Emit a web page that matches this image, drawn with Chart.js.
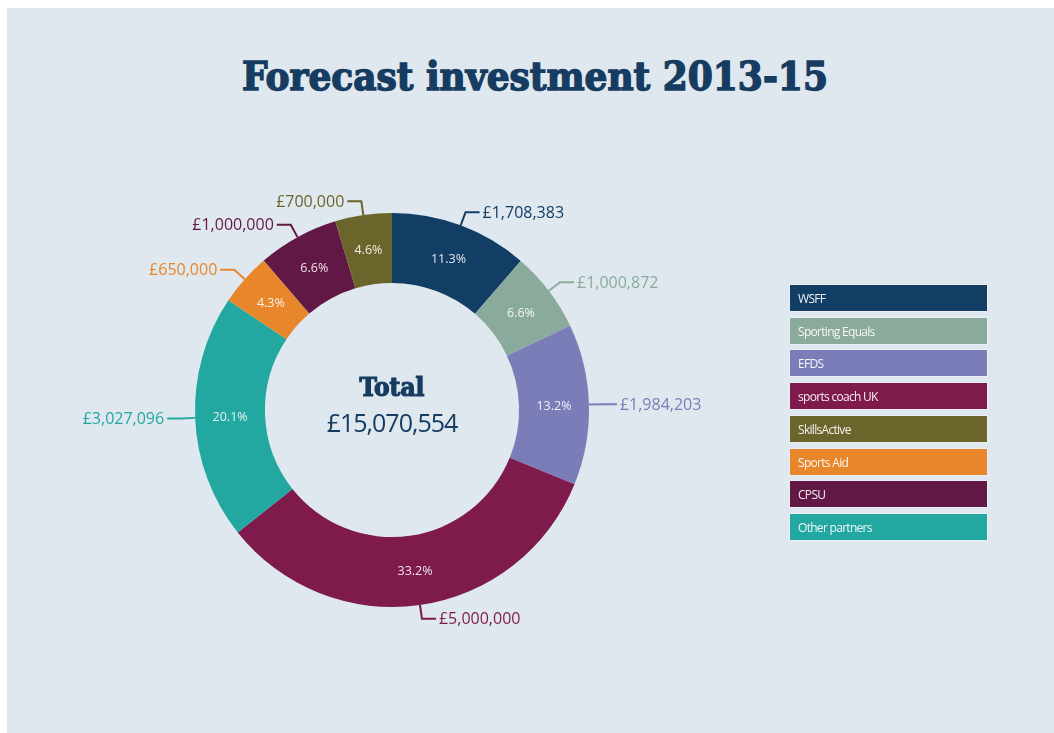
<!DOCTYPE html>
<html>
<head>
<meta charset="utf-8">
<script src="https://cdn.jsdelivr.net/npm/chart.js@4/dist/chart.umd.min.js"></script>
<style>
  html, body { margin: 0; padding: 0; background: #fff; }
  #panel { position: absolute; left: 7px; top: 8px; width: 1047px; height: 725px; background: #dfe8ee; }
  #title { position: absolute; left: 8px; top: 52px; width: 1054px; text-align: center;
    font-family: 'DejaVu Serif Condensed', 'DejaVu Serif', serif; font-weight: bold; font-size: 40px;
    color: #173c61; letter-spacing: 0px; -webkit-text-stroke: 1.4px #173c61; }
  #chart { position: absolute; left: 0; top: 0; }
  #legend { position: absolute; left: 790px; top: 285px; width: 197px; }
  .leg-item { position: absolute; left: 0; width: 197px; height: 26px; line-height: 27px; box-sizing: border-box;
    padding-left: 8px; color: rgba(255,255,255,0.92); font-family: 'Open Sans', sans-serif; font-size: 12px;
    letter-spacing: -0.7px; box-shadow: 0 0 0 1px rgba(255,255,255,0.35); }
</style>
</head>
<body>
<div id="panel"></div>
<div id="title">Forecast investment 2013-15</div>
<canvas id="chart" width="1054" height="733"></canvas>
<div id="legend"></div>
<script>
'use strict';

// slices, clockwise from 12 o'clock
const partners = ['WSFF', 'Sporting Equals', 'EFDS', 'sports coach UK', 'Other partners', 'Sports Aid', 'CPSU', 'SkillsActive'];
const amounts = [1708383, 1000872, 1984203, 5000000, 3027096, 650000, 1000000, 700000];
const sliceColors = ['#123d65', '#8aab9c', '#7b7db9', '#7e1a4c', '#22a8a1', '#e8862b', '#611845', '#6b652c'];
// legend runs in its own order
const legendOrder = ['WSFF', 'Sporting Equals', 'EFDS', 'sports coach UK', 'SkillsActive', 'Sports Aid', 'CPSU', 'Other partners'];

const total = amounts.reduce((a, b) => a + b, 0);
const fmtGBP = v => '£' + v.toLocaleString('en-GB');

const legend = document.getElementById('legend');
legendOrder.forEach((name, i) => {
  const d = document.createElement('div');
  d.className = 'leg-item';
  d.style.top = (i * 32.7) + 'px';
  d.style.background = sliceColors[partners.indexOf(name)];
  d.textContent = name;
  legend.appendChild(d);
});

const ringLabels = {
  id: 'ringLabels',
  afterDatasetsDraw(chart) {
    const ctx = chart.ctx;
    const arcs = chart.getDatasetMeta(0).data;
    ctx.save();
    arcs.forEach((arc, i) => {
      const mid = (arc.startAngle + arc.endAngle) / 2;
      const cx = arc.x, cy = arc.y;
      const cos = Math.cos(mid), sin = Math.sin(mid);

      // percentage inside the ring
      const rMid = (arc.innerRadius + arc.outerRadius) / 2;
      ctx.fillStyle = 'rgba(255,255,255,0.88)';
      ctx.font = '12.5px "Open Sans", sans-serif';
      ctx.textAlign = 'center';
      ctx.textBaseline = 'middle';
      ctx.fillText((amounts[i] / total * 100).toFixed(1) + '%', cx + cos * rMid, cy + sin * rMid + 1);

      // leader line: short radial step, then horizontal
      const ax = cx + cos * arc.outerRadius, ay = cy + sin * arc.outerRadius;
      const ex = cx + cos * (arc.outerRadius + 14), ey = cy + sin * (arc.outerRadius + 14);
      const dir = cos >= -0.05 ? 1 : -1;
      const hx = ex + dir * 14;
      ctx.strokeStyle = sliceColors[i];
      ctx.lineWidth = 2;
      ctx.beginPath();
      ctx.moveTo(ax, ay);
      ctx.lineTo(ex, ey);
      ctx.lineTo(hx, ey);
      ctx.stroke();

      ctx.fillStyle = sliceColors[i];
      ctx.font = '16px "Open Sans", sans-serif';
      ctx.textAlign = dir > 0 ? 'left' : 'right';
      ctx.fillText(fmtGBP(amounts[i]), hx + dir * 3, ey + 1);
    });

    // centre total
    const c = arcs[0];
    ctx.fillStyle = '#173c61';
    ctx.strokeStyle = '#173c61';
    ctx.lineWidth = 1.2;
    ctx.textAlign = 'center';
    ctx.textBaseline = 'alphabetic';
    ctx.font = 'bold 26px "DejaVu Serif Condensed", "DejaVu Serif", serif';
    ctx.fillText('Total', c.x, c.y - 14);
    ctx.strokeText('Total', c.x, c.y - 14);
    ctx.font = '25px "Open Sans", sans-serif';
    if ('letterSpacing' in ctx) ctx.letterSpacing = '-1px';
    ctx.fillText(fmtGBP(total), c.x, c.y + 22);
    ctx.restore();
  }
};

new Chart(document.getElementById('chart'), {
  type: 'doughnut',
  data: {
    labels: partners,
    datasets: [{
      data: amounts,
      backgroundColor: sliceColors,
      borderWidth: 0
    }]
  },
  options: {
    responsive: false,
    animation: false,
    cutout: '64.5%',
    layout: { padding: { left: 195, top: 213, right: 465, bottom: 126 } },
    plugins: {
      legend: { display: false },
      tooltip: { enabled: false }
    }
  },
  plugins: [ringLabels]
});
</script>
</body>
</html>
